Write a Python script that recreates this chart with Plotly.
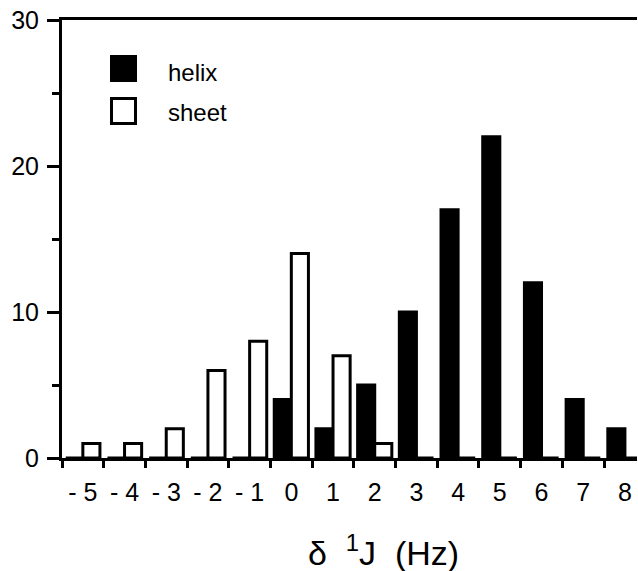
import plotly.graph_objects as go

categories = ["- 5", "- 4", "- 3", "- 2", "- 1", "0", "1", "2", "3", "4", "5", "6", "7", "8"]
helix = [0, 0, 0, 0, 0, 4, 2, 5, 10, 17, 22, 12, 4, 2]
sheet = [1, 1, 2, 6, 8, 14, 7, 1, 0, 0, 0, 0, 0, 0]
y_ticks = [0, 10, 20, 30]

FONT = "Liberation Sans, Arial, Helvetica, sans-serif"

fig = go.Figure()
fig.add_trace(go.Bar(x=categories, y=helix, name="helix",
                     marker=dict(color="black", line=dict(color="black", width=3)),
                     showlegend=False))
fig.add_trace(go.Bar(x=categories, y=sheet, name="sheet",
                     marker=dict(color="white", line=dict(color="black", width=3)),
                     showlegend=False))

W, H = 638, 571
L, R, T, B = 62, 1, 20, 113
pw, ph = W - L - R, H - T - B

def px(xp):
    return (xp - L) / pw

def py(yp):
    return (H - B - yp) / ph

# manual legend
fig.add_shape(type="rect", xref="paper", yref="paper",
              x0=px(111), x1=px(136), y0=py(81), y1=py(56),
              fillcolor="black", line=dict(color="black", width=2))
fig.add_shape(type="rect", xref="paper", yref="paper",
              x0=px(111.5), x1=px(135.5), y0=py(123.5), y1=py(98.5),
              fillcolor="white", line=dict(color="black", width=3))
fig.add_annotation(x=px(166), y=py(72), xref="paper", yref="paper", text="helix",
                   showarrow=False, xanchor="left", yanchor="middle",
                   font=dict(family=FONT, size=24, color="black"))
fig.add_annotation(x=px(166), y=py(112), xref="paper", yref="paper", text="sheet",
                   showarrow=False, xanchor="left", yanchor="middle",
                   font=dict(family=FONT, size=24, color="black"))

# axis title
fig.add_annotation(x=px(383), y=py(550), xref="paper", yref="paper",
                   text="δ\u00a0\u00a0<sup>1</sup>J\u00a0\u00a0(Hz)",
                   showarrow=False, xanchor="center", yanchor="middle",
                   font=dict(family=FONT, size=34, color="black"))

fig.update_layout(
    width=W, height=H,
    margin=dict(l=L, r=R, t=T, b=B, autoexpand=False),
    paper_bgcolor="white", plot_bgcolor="white",
    barmode="group", bargap=0.18, bargroupgap=0,
    font=dict(family=FONT, size=24, color="black"),
    xaxis=dict(type="category", range=[-0.5, 13.29], tickson="boundaries",
               automargin=False, ticklabelstandoff=10,
               ticks="outside", ticklen=7, tickwidth=3, tickcolor="black",
               showline=True, linewidth=3, linecolor="black", mirror=True,
               showgrid=False, zeroline=False,
               tickfont=dict(family=FONT, size=25, color="black")),
    yaxis=dict(range=[0, 30], tickvals=y_ticks, automargin=False,
               ticklabelstandoff=3,
               ticks="outside", ticklen=12, tickwidth=3, tickcolor="black",
               minor=dict(dtick=5, ticks="outside", ticklen=7, tickwidth=3, tickcolor="black"),
               showline=True, linewidth=3, linecolor="black", mirror=False,
               showgrid=False, zeroline=False,
               tickfont=dict(family=FONT, size=25, color="black")),
)

fig.write_html("out.html",
               config={"displayModeBar": False},
               post_script="document.body.style.margin='0';document.body.style.padding='0';")
